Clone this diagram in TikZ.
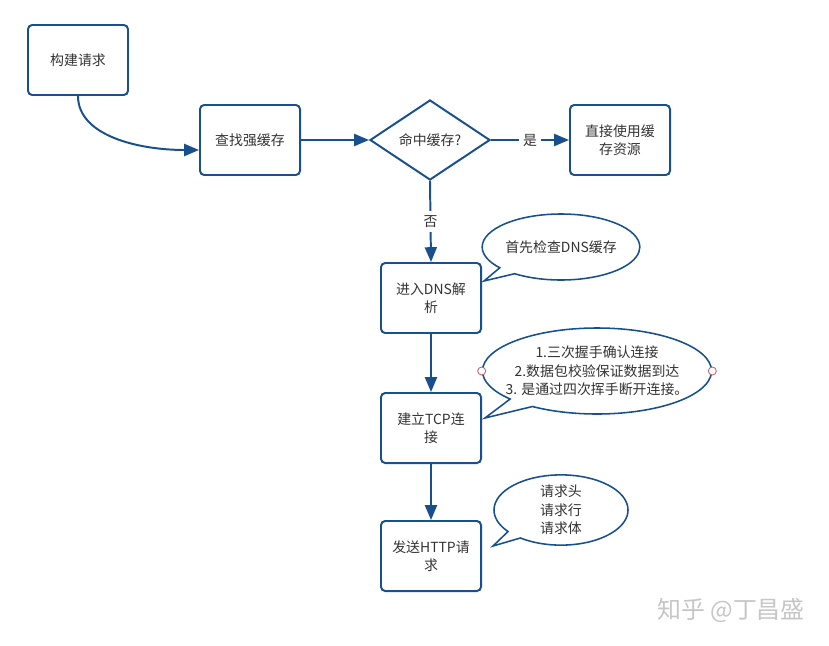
\documentclass[tikz,border=0pt]{standalone}
\usepackage{fontspec}
\setmainfont{Noto Sans CJK SC}
\usetikzlibrary{shapes.geometric,shapes.callouts,arrows.meta}
\definecolor{flowblue}{HTML}{17508C}
\definecolor{txtgray}{HTML}{333333}
\definecolor{handlered}{HTML}{C0606A}

\begin{document}
\begin{tikzpicture}[x=0.025cm, y=-0.025cm,
  every node/.style = {font=\fontsize{9.9}{13.1}\selectfont,
    text=txtgray, align=center},
  flow/.style = {draw=flowblue, line width=1.4pt,
    -{Triangle[length=0.37cm,width=0.3cm]}}]
    \tikzstyle{stepbox}=[shape=rectangle, rounded corners=3pt, draw=flowblue, line width=1.4pt, minimum width=2.5cm, minimum height=1.75cm, inner sep=0pt]
    \tikzstyle{decide}=[shape=diamond, draw=flowblue, line width=1.4pt, minimum width=3cm, minimum height=2cm, inner sep=0pt]
    \tikzstyle{note}=[shape=ellipse callout, draw=flowblue, line width=1.1pt, inner sep=0pt, fill=white]
    \tikzstyle{handle}=[shape=circle, draw=handlered, fill=white, line width=0.6pt, minimum size=0.2cm, inner sep=0pt]
  \useasboundingbox (0,0) rectangle (829,645);
  % main flow
  \node [stepbox] (build) at (78,60) {构建请求};
  \node [stepbox] (search) at (250,140) {查找强缓存};
  \node [decide] (hit) at (430,140) {命中缓存?};
  \node [stepbox] (usecache) at (620,140) {直接使用缓\\存资源};
  \node [stepbox] (dns) at (431,298) {进入DNS解\\析};
  \node [stepbox] (tcp) at (431,428) {建立TCP连\\接};
  \node [stepbox] (http) at (431,556) {发送HTTP请\\求};
  % notes
  \node [note, minimum width=3.8cm, minimum height=1.65cm,
    callout absolute pointer={(484,281)}] (dnsnote) at (561,247) {首先检查DNS缓存};
  \node [note, inner xsep=-0.26cm, minimum width=5.65cm, minimum height=2.15cm,
    callout absolute pointer={(485,418)}] (tcpnote) at (597,371)
    {1.三次握手确认连接\\2.数据包校验保证数据到达\\3. 是通过四次挥手断开连接。};
  \node [handle] (handleL) at (tcpnote.west) {};
  \node [handle] (handleR) at (tcpnote.east) {};
  \node [note, minimum width=3.35cm, minimum height=1.75cm,
    callout absolute pointer={(493,546)}] (httpnote) at (561,510) {请求头\\请求行\\请求体};
  % connectors
  \draw [flow] (build.south) .. controls +(0,40) and +(-60,0) .. ([yshift=-0.25cm]search.west);
  \draw [flow] (search.east) -- (hit.west);
  \draw [flow] (hit.east) -- node [fill=white, inner sep=3pt] (yes) {是} (usecache.west);
  \draw [flow] (hit.south) -- node [fill=white, inner sep=3pt] (no) {否} (dns.north);
  \draw [flow] (dns.south) -- (tcp.north);
  \draw [flow] (tcp.south) -- (http.north);
  % watermark
  \node [font=\fontsize{17}{20}\selectfont, text=gray!45] (mark) at (731,610) {知乎 @丁昌盛};
\end{tikzpicture}
\end{document}
